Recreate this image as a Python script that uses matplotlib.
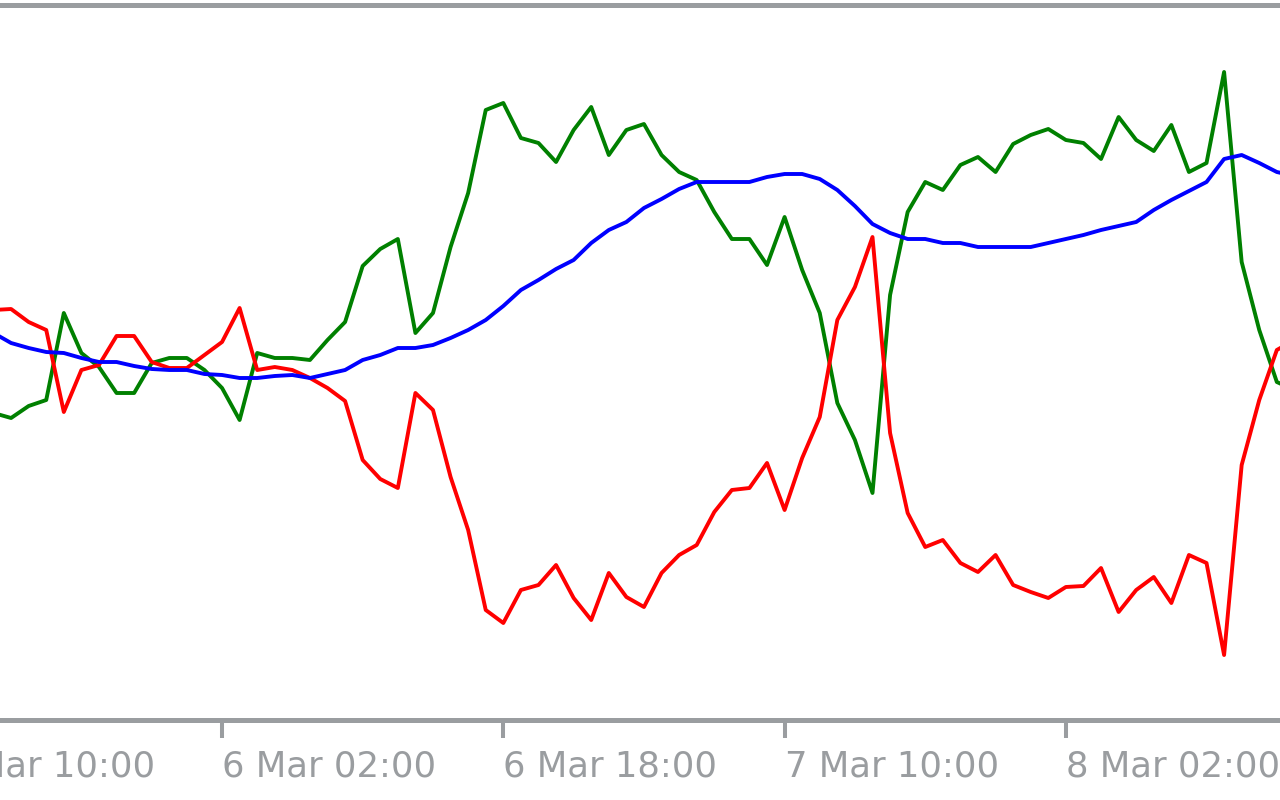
import matplotlib
matplotlib.use("Agg")
import matplotlib.pyplot as plt
import matplotlib.transforms as mtransforms
import pandas as pd

# hourly bars, 5 Mar 13:00 .. 8 Mar 15:00
times = pd.date_range("2024-03-05 13:00", periods=75, freq="h")

green = [307, 302, 314, 320, 407, 367, 353, 327, 327, 357, 362, 362, 350, 332, 300,
         367, 362, 362, 360, 380, 398, 454, 471, 481, 387, 407, 473, 527, 610, 617,
         582, 577, 558, 590, 613, 565, 590, 596, 565, 548, 540, 508, 481, 481, 455,
         503, 450, 407, 317, 280, 227, 425, 508, 538, 530, 555, 563, 548, 576, 585,
         591, 580, 577, 561, 603, 580, 569, 595, 548, 557, 648, 458, 390, 338, 330]
red = [410, 411, 398, 390, 308, 350, 355, 384, 384, 358, 352, 352, 365, 378, 412,
       350, 353, 350, 342, 332, 319, 260, 241, 232, 327, 310, 243, 190, 110, 97,
       130, 135, 155, 122, 100, 147, 123, 113, 147, 165, 175, 208, 230, 232, 257,
       210, 262, 303, 400, 433, 483, 287, 207, 173, 180, 157, 148, 165, 135, 128,
       122, 133, 134, 152, 108, 130, 143, 117, 165, 157, 65, 255, 320, 370, 380]
blue = [387, 377, 372, 368, 367, 362, 358, 358, 354, 351, 350, 350, 346, 345, 342,
        342, 344, 345, 342, 346, 350, 360, 365, 372, 372, 375, 382, 390, 400, 414,
        430, 440, 451, 460, 477, 490, 498, 512, 521, 531, 538, 538, 538, 538, 543,
        546, 546, 541, 530, 514, 496, 487, 481, 481, 477, 477, 473, 473, 473, 473,
        477, 481, 485, 490, 494, 498, 510, 520, 529, 538, 561, 565, 557, 548, 544]

tick_times = pd.to_datetime(["2024-03-05 10:00", "2024-03-06 02:00", "2024-03-06 18:00",
                             "2024-03-07 10:00", "2024-03-08 02:00"])
tick_labels = ["5 Mar 10:00", "6 Mar 02:00", "6 Mar 18:00", "7 Mar 10:00", "8 Mar 02:00"]

grey = "#9a9da0"
fig = plt.figure(figsize=(12.8, 8), dpi=100)
ax = fig.add_axes([0, 0.1, 1, 0.89375])

ax.plot(times, green, color="#008000", lw=2.8)
ax.plot(times, red, color="#ff0000", lw=2.8)
ax.plot(times, blue, color="#0000ff", lw=2.8)

ref = pd.Timestamp("2024-03-06 02:00")
ax.set_xlim(ref - pd.Timedelta(hours=12.63), ref + pd.Timedelta(hours=60.18))
ax.set_ylim(0, 715)

for s in ("left", "right"):
    ax.spines[s].set_visible(False)
ax.spines["top"].set_color(grey)
ax.spines["top"].set_linewidth(3.6)
ax.spines["bottom"].set_color(grey)
ax.spines["bottom"].set_linewidth(3.6)

ax.set_yticks([])
ax.set_xticks(tick_times[1:])
ax.set_xticklabels([])
ax.tick_params(axis="x", direction="out", length=13, width=2.9, color=grey)

trans = mtransforms.blended_transform_factory(ax.transData, ax.transAxes)
for t, lab in zip(tick_times, tick_labels):
    ax.text(t, -0.0797, lab, transform=trans, ha="left", va="baseline", color=grey,
            fontsize=25.5, family="DejaVu Sans", clip_on=False)

fig.savefig("out.png", dpi=100)
